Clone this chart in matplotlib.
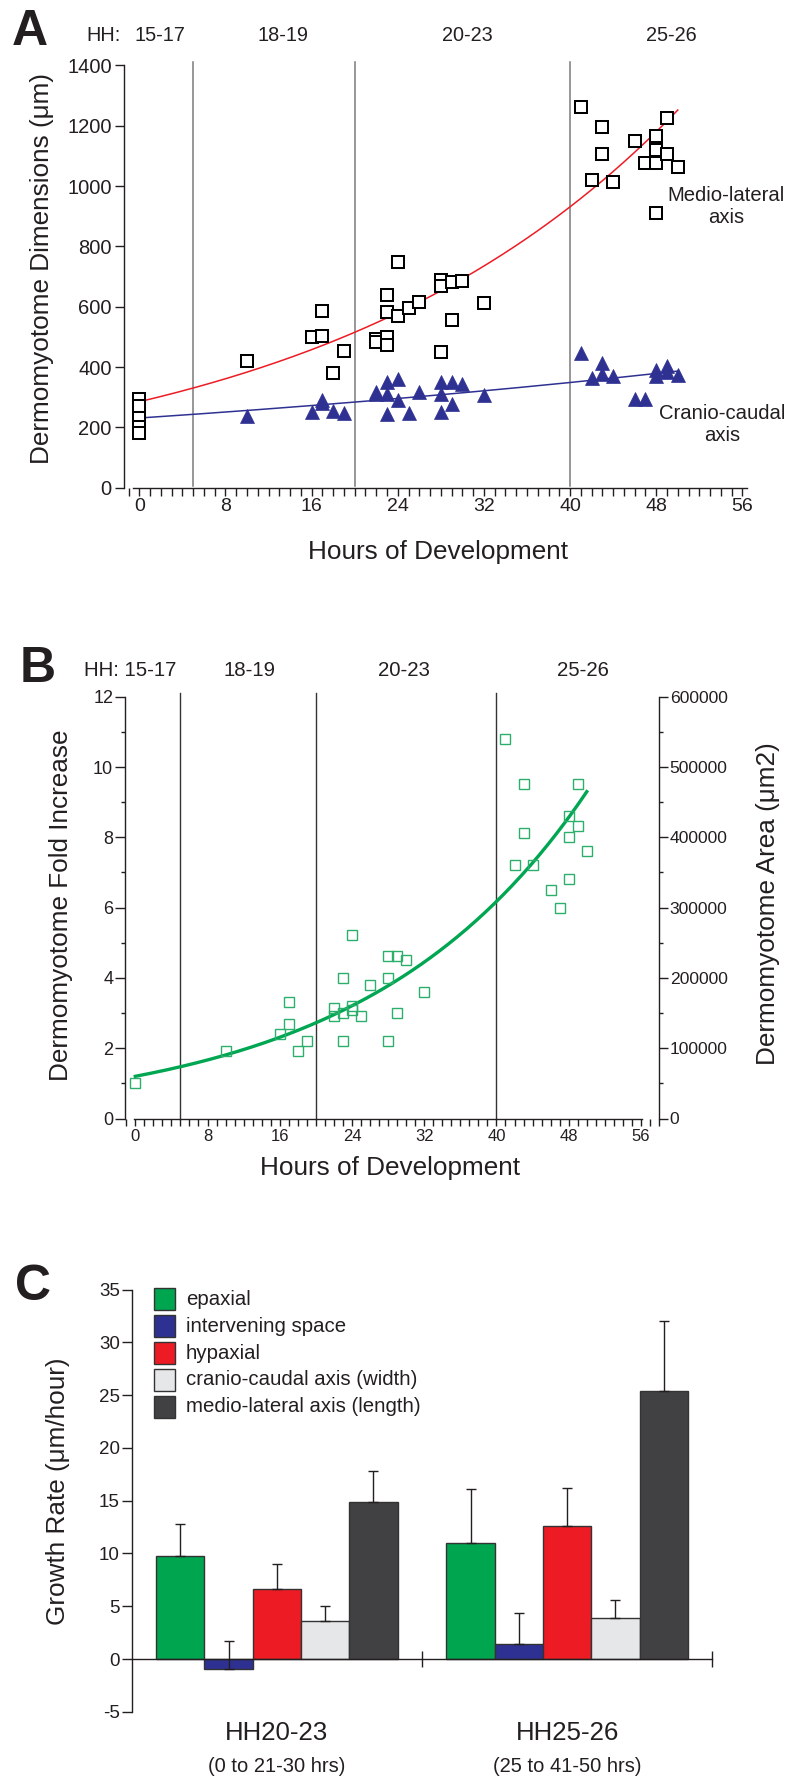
import numpy as np
import matplotlib.pyplot as plt
import matplotlib.transforms as mtransforms
from matplotlib.ticker import MultipleLocator, NullFormatter, StrMethodFormatter
from matplotlib.patches import Rectangle

plt.rcParams['font.family'] = ['Liberation Sans', 'DejaVu Sans']
plt.rcParams['axes.unicode_minus'] = False
INK = '#231f20'
W, H = 799, 1778

# ---- panel A: dermomyotome dimensions (um) ----
ml_hours = [0, 0, 0, 0, 0, 10, 16, 17, 17, 18, 19, 22, 22, 23, 23, 23, 23, 24, 24, 25, 26,
            28, 28, 28, 29, 29, 30, 32, 41, 42, 43, 43, 44, 46, 47, 48, 48, 48, 48, 49, 49, 50]
ml_um = [293, 271, 232, 202, 180, 420, 501, 586, 503, 381, 454, 494, 482, 640, 583, 501, 474,
         749, 569, 596, 614, 689, 669, 450, 683, 557, 686, 612, 1261, 1021, 1196, 1105, 1013,
         1151, 1075, 1167, 1119, 1075, 910, 1226, 1107, 1062]
cc_hours = [10, 16, 17, 17, 18, 19, 22, 22, 23, 23, 23, 24, 24, 25, 26, 28, 28, 28, 29, 29, 30,
            32, 41, 42, 43, 43, 44, 46, 47, 48, 48, 49, 49, 50]
cc_um = [237, 252, 290, 280, 255, 249, 317, 310, 352, 310, 243, 359, 290, 249, 317, 349, 310,
         252, 349, 278, 343, 308, 448, 365, 415, 377, 370, 293, 293, 391, 371, 403, 385, 373]
# exponential fits y = a * exp(k * t)
ml_fit = (285, 0.0296)
cc_fit = (231, 0.0103)
fit_range = (0, 50)

stage_bounds = [5, 20, 40]
stage_labels = ['15-17', '18-19', '20-23', '25-26']

# ---- panel B: fold increase ----
b_hours = [0, 10, 16, 17, 17, 18, 19, 22, 22, 23, 23, 23, 24, 24, 24, 25, 26, 28, 28, 28, 29, 29,
           30, 32, 41, 42, 43, 43, 44, 46, 47, 48, 48, 48, 49, 49, 50]
b_fold = [1.01, 1.91, 2.41, 3.31, 2.70, 1.91, 2.20, 3.13, 2.91, 4.0, 2.2, 3.0, 5.21, 3.21, 3.10,
          2.91, 3.81, 4.61, 4.0, 2.2, 4.61, 3.0, 4.52, 3.6, 10.8, 7.21, 9.51, 8.12, 7.21, 6.51,
          6.0, 8.62, 8.02, 6.81, 9.51, 8.31, 7.61]
b_fit = (1.2, 0.04095)
area_per_fold = 50000

# ---- panel C: growth rates ----
groups = ['HH20-23', 'HH25-26']
group_notes = ['(0 to 21-30 hrs)', '(25 to 41-50 hrs)']
series = ['epaxial', 'intervening space', 'hypaxial',
          'cranio-caudal axis (width)', 'medio-lateral axis (length)']
epaxial = [9.71, 10.96]
epaxial_err = [3.1, 5.17]
intervening = [-0.98, 1.41]
intervening_err = [2.66, 2.98]
hypaxial = [6.66, 12.6]
hypaxial_err = [2.34, 3.6]
cranio = [3.6, 3.92]
cranio_err = [1.45, 1.68]
medio = [14.88, 25.37]
medio_err = [2.9, 6.66]
bar_colors = ['#00a54f', '#2e3192', '#ed1c24', '#e6e7e8', '#414042']


def axes_px(left, top, right, bottom):
    return [left / W, 1 - bottom / H, (right - left) / W, (bottom - top) / H]


def fig_y(py):
    return 1 - py / H


fig = plt.figure(figsize=(W / 100, H / 100), dpi=100)

# ================= A =================
ax = fig.add_axes(axes_px(124, 65.4, 746.7, 487.7))
ax.set_xlim(-1.42, 56.4)
ax.set_ylim(0, 1400)
for s in ['top', 'right']:
    ax.spines[s].set_visible(False)
for s in ['left', 'bottom']:
    ax.spines[s].set_color(INK)
    ax.spines[s].set_linewidth(1.0)
ax.spines['bottom'].set_bounds(-0.55, 56.4)
ax.xaxis.set_major_locator(MultipleLocator(8))
ax.xaxis.set_minor_locator(MultipleLocator(1))
ax.yaxis.set_major_locator(MultipleLocator(200))
ax.tick_params(axis='x', which='both', direction='out', length=6, width=1, color=INK,
               labelsize=14, labelcolor=INK, pad=1.5)
ax.tick_params(axis='y', which='major', direction='out', length=6.5, width=1, color=INK,
               labelsize=14.5, labelcolor=INK, pad=2.4)
for b in stage_bounds:
    ax.axvline(b, ymin=0.004, ymax=1.008, color='#7a7a7a', lw=1.1, clip_on=False, zorder=1)

t = np.linspace(*fit_range, 200)
ax.plot(t, ml_fit[0] * np.exp(ml_fit[1] * t), color='#ed1c24', lw=1.1, zorder=2)
ax.plot(t, cc_fit[0] * np.exp(cc_fit[1] * t), color='#2e3192', lw=1.1, zorder=2)
ax.plot(ml_hours, ml_um, 's', ms=8.3, mfc='white', mec='black', mew=1.45, zorder=3,
        clip_on=False)
ax.plot(cc_hours, cc_um, '^', ms=9.4, mfc='#2e3192', mec='#2e3192', mew=0.5, zorder=3)

ax.text(54.5, 931, 'Medio-lateral\naxis', ha='center', va='center', fontsize=14.6,
        color=INK, linespacing=1.2)
ax.text(54.1, 208, 'Cranio-caudal\naxis', ha='center', va='center', fontsize=14.6,
        color=INK, linespacing=1.2)

trA = mtransforms.blended_transform_factory(ax.transData, fig.transFigure)
ax.text(-3.32, fig_y(35.7), 'HH:', transform=trA, ha='center', va='center', fontsize=14.3,
        color=INK)
for x, lab in zip([1.92, 13.3, 30.5, 49.4], stage_labels):
    ax.text(x, fig_y(35.7), lab, transform=trA, ha='center', va='center', fontsize=14.3,
            color=INK)

fig.text(41.7 / W, fig_y(268.8), 'Dermomyotome Dimensions (\u03bcm)', rotation=90,
         ha='center', va='center', fontsize=18.8, color=INK)
fig.text(437.5 / W, fig_y(552), 'Hours of Development', ha='center', va='center',
         fontsize=18.8, color=INK)
fig.text(11.7 / W, fig_y(44.6), 'A', ha='left', va='baseline', fontsize=36,
         fontweight='bold', color=INK)

# ================= B =================
bx = fig.add_axes(axes_px(125, 696.7, 659, 1118.5))
bx.set_xlim(-1.14, 58.0)
bx.set_ylim(0, 12)
for s in ['top', 'right']:
    bx.spines[s].set_visible(False)
for s in ['left', 'bottom']:
    bx.spines[s].set_color(INK)
    bx.spines[s].set_linewidth(1.0)
bx.spines['bottom'].set_bounds(-0.1, 56.1)
bx.xaxis.set_major_locator(MultipleLocator(8))
bx.xaxis.set_minor_locator(MultipleLocator(1))
bx.yaxis.set_major_locator(MultipleLocator(2))
bx.yaxis.set_minor_locator(MultipleLocator(1))
bx.tick_params(axis='x', which='both', direction='out', length=5, width=1, color=INK,
               labelsize=12, labelcolor=INK, pad=2.4)
bx.tick_params(axis='y', which='major', direction='out', length=7, width=1, color=INK,
               labelsize=13, labelcolor=INK, pad=1.5)
bx.tick_params(axis='y', which='minor', direction='out', length=3, width=1, color=INK)
for b in stage_bounds:
    bx.axvline(b, ymin=0, ymax=1.008, color='#333333', lw=1.0, clip_on=False, zorder=1)

tb = np.linspace(*fit_range, 200)
bx.plot(tb, b_fit[0] * np.exp(b_fit[1] * tb), color='#00a651', lw=2.4, zorder=2)
bx.plot(b_hours, b_fold, 's', ms=6.9, mfc='none', mec='#2daf6c', mew=1.0, zorder=3,
        clip_on=False)

rx = bx.twinx()
rx.set_ylim(0, 12 * area_per_fold)
for s in ['top', 'left', 'bottom']:
    rx.spines[s].set_visible(False)
rx.spines['right'].set_color(INK)
rx.spines['right'].set_linewidth(1.0)
rx.yaxis.set_major_locator(MultipleLocator(2 * area_per_fold))
rx.yaxis.set_minor_locator(MultipleLocator(area_per_fold))
rx.yaxis.set_major_formatter(StrMethodFormatter('{x:.0f}'))
rx.tick_params(axis='y', which='major', direction='out', length=6.7, width=1, color=INK,
               labelsize=12.6, labelcolor=INK, pad=1)
rx.tick_params(axis='y', which='minor', direction='out', length=3, width=1, color=INK)

trB = mtransforms.blended_transform_factory(bx.transData, fig.transFigure)
stage_x_b = [-0.53, 12.6, 29.8, 49.6]
for x, lab in zip(stage_x_b, ['HH: ' + stage_labels[0]] + stage_labels[1:]):
    bx.text(x, fig_y(670), lab, transform=trB, ha='center', va='center', fontsize=14.7,
            color=INK)

fig.text(61 / W, fig_y(905.7), 'Dermomyotome Fold Increase', rotation=90, ha='center',
         va='center', fontsize=18.8, color=INK)
fig.text(768.3 / W, fig_y(904), 'Dermomyotome Area (\u03bcm2)', rotation=90, ha='center',
         va='center', fontsize=18.8, color=INK)
fig.text(389.7 / W, fig_y(1168), 'Hours of Development', ha='center', va='center',
         fontsize=18.8, color=INK)
fig.text(19.5 / W, fig_y(681.7), 'B', ha='left', va='baseline', fontsize=36,
         fontweight='bold', color=INK)

# ================= C =================
cx = fig.add_axes(axes_px(131.7, 1289.5, 712.3, 1711.8))
cx.set_xlim(-0.5, 1.5)
cx.set_ylim(-5, 35)
for s in ['top', 'right']:
    cx.spines[s].set_visible(False)
cx.spines['left'].set_color(INK)
cx.spines['left'].set_linewidth(1.0)
cx.spines['bottom'].set_position(('data', 0))
cx.spines['bottom'].set_color(INK)
cx.spines['bottom'].set_linewidth(1.0)
cx.yaxis.set_major_locator(MultipleLocator(5))
cx.tick_params(axis='y', direction='out', length=7, width=1, color=INK, labelsize=13.5,
               labelcolor=INK, pad=1.5)
cx.set_xticks([0.5, 1.5])
cx.xaxis.set_major_formatter(NullFormatter())
cx.tick_params(axis='x', direction='inout', length=11.3, width=1, color=INK)

values = [epaxial, intervening, hypaxial, cranio, medio]
errors = [epaxial_err, intervening_err, hypaxial_err, cranio_err, medio_err]
bw = 0.1663
gx = np.arange(len(groups))
for i, (vals, errs, col) in enumerate(zip(values, errors, bar_colors)):
    xs = gx + (i - 2) * bw
    cx.bar(xs, vals, width=bw, color=col, edgecolor='#333333', linewidth=1.0, zorder=2)
    cx.errorbar(xs, vals, yerr=[np.zeros(len(errs)), errs], fmt='none', ecolor=INK,
                elinewidth=1.0, capsize=3.3, capthick=1.0, zorder=3)

# legend drawn as boxes + labels in data space
for i, (lab, col) in enumerate(zip(series, bar_colors)):
    top = 35.1 - i * 2.55
    cx.add_patch(Rectangle((-0.424, top - 2.04), 0.0747, 2.04, facecolor=col,
                           edgecolor='#333333', lw=1.0, clip_on=False, zorder=4))
    cx.text(-0.3126, top - 1.02, lab, ha='left', va='center', fontsize=14.7, color=INK)

trC = mtransforms.blended_transform_factory(cx.transData, fig.transFigure)
for x, g, note in zip(gx, groups, group_notes):
    cx.text(x, fig_y(1733.3), g, transform=trC, ha='center', va='center', fontsize=18.6,
            color=INK)
    cx.text(x, fig_y(1766.4), note, transform=trC, ha='center', va='center', fontsize=14.5,
            color=INK)

fig.text(58.3 / W, fig_y(1491.6), 'Growth Rate (\u03bcm/hour)', rotation=90, ha='center',
         va='center', fontsize=18.8, color=INK)
fig.text(14.7 / W, fig_y(1300.5), 'C', ha='left', va='baseline', fontsize=36,
         fontweight='bold', color=INK)

fig.savefig('out.png', dpi=100)
